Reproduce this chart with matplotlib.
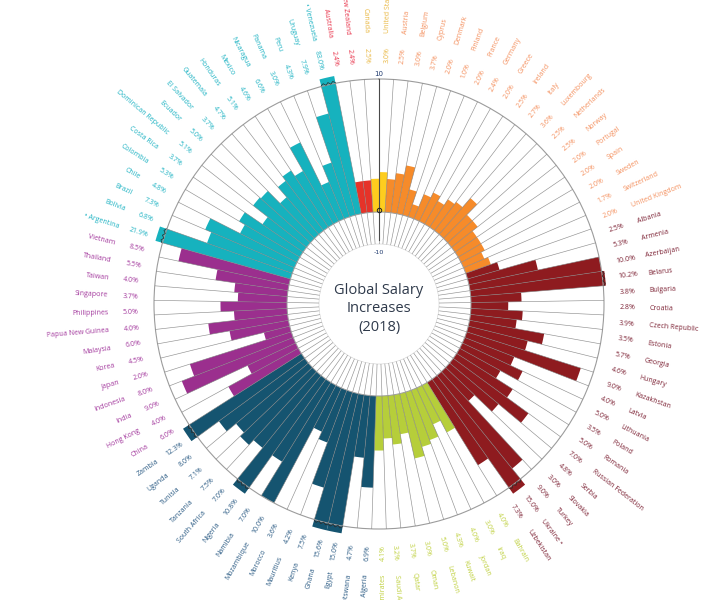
import numpy as np
import matplotlib
matplotlib.use("Agg")
import matplotlib.pyplot as plt

# ---------------- data (clockwise order, starting with Oceania) ----------------
oceania = ["Australia", "New Zealand"]
oceania_vals = [2.4, 2.4]
north_america = ["Canada", "United States"]
north_america_vals = [2.5, 3.0]
europe = ["Austria", "Belgium", "Cyprus", "Denmark", "Finland", "France", "Germany",
          "Greece", "Ireland", "Italy", "Luxembourg", "Netherlands", "Norway",
          "Portugal", "Spain", "Sweden", "Switzerland", "United Kingdom"]
europe_vals = [2.5, 3.0, 3.7, 2.0, 1.0, 2.0, 2.4, 2.0, 2.5, 2.7, 3.6, 2.5, 2.5,
               2.0, 2.0, 2.0, 1.7, 2.0]
east_europe = ["Albania", "Armenia", "Azerbaijan", "Belarus", "Bulgaria", "Croatia",
               "Czech Republic", "Estonia", "Georgia", "Hungary", "Kazakhstan",
               "Latvia", "Lithuania", "Poland", "Romania", "Russian Federation",
               "Serbia", "Slovakia", "Turkey", "Ukraine", "Uzbekistan"]
east_europe_vals = [2.5, 5.3, 10.0, 10.2, 3.8, 2.8, 3.9, 3.5, 5.7, 4.6, 9.0, 4.0,
                    5.0, 3.5, 5.0, 7.0, 4.8, 3.0, 9.0, 15.0, 7.3]
middle_east = ["Bahrain", "Iraq", "Jordan", "Kuwait", "Lebanon", "Oman", "Qatar",
               "Saudi Arabia", "United Arab Emirates"]
middle_east_vals = [4.0, 3.0, 4.0, 4.3, 5.0, 3.0, 3.7, 3.2, 4.1]
africa = ["Algeria", "Botswana", "Egypt", "Ghana", "Kenya", "Mauritius", "Morocco",
          "Mozambique", "Namibia", "Nigeria", "South Africa", "Tanzania", "Tunisia",
          "Uganda", "Zambia"]
africa_vals = [6.9, 4.7, 15.0, 15.6, 7.5, 4.2, 3.6, 10.0, 7.0, 10.8, 7.0, 7.5, 7.1,
               8.0, 12.3]
asia = ["China", "Hong Kong", "India", "Indonesia", "Japan", "Korea", "Malaysia",
        "Papua New Guinea", "Philippines", "Singapore", "Taiwan", "Thailand", "Vietnam"]
asia_vals = [6.0, 4.0, 9.0, 8.0, 2.0, 4.5, 6.0, 4.0, 5.0, 3.7, 4.0, 5.5, 8.5]
latin_america = ["Argentina", "Bolivia", "Brazil", "Chile", "Colombia", "Costa Rica",
                 "Dominican Republic", "Ecuador", "El Salvador", "Guatemala",
                 "Honduras", "Mexico", "Nicaragua", "Panama", "Peru", "Uruguay",
                 "Venezuela"]
latin_america_vals = [21.9, 6.8, 7.3, 4.8, 5.3, 3.7, 5.1, 5.0, 3.7, 4.7, 5.1, 4.6,
                      6.6, 3.0, 4.3, 7.9, 83.0]
flagged = ["Argentina", "Venezuela", "Ukraine"]
axis_ticks = ["-10", "10"]
title = "Global Salary\nIncreases\n(2018)"

# region order / styles (bar colour, label colour)
blocks = [
    (oceania, oceania_vals, "#E63329", "#E8334A"),
    (north_america, north_america_vals, "#FECD1E", "#E9B741"),
    (europe, europe_vals, "#F68B2A", "#F4905E"),
    (east_europe, east_europe_vals, "#8E1B1F", "#7D2335"),
    (middle_east, middle_east_vals, "#B6CE3A", "#BFD03E"),
    (africa, africa_vals, "#155470", "#2B5B84"),
    (asia, asia_vals, "#9B2F8E", "#A2379C"),
    (latin_america, latin_america_vals, "#16B2BE", "#1FB3C3"),
]

names, vals, bar_cols, lab_cols = [], [], [], []
for n, v, bc, lc in blocks:
    names += n
    vals += v
    bar_cols += [bc] * len(n)
    lab_cols += [lc] * len(n)
vals = np.array(vals)
N = len(names)

# ---------------- geometry ----------------
W, H = 719, 600
CX, CY = 379, 304
R_OUT, R0, R_IN = 225, 92, 60
VMAX = 10.0
origin = -VMAX * R0 / (R_OUT - R0)


def px2v(p):
    return origin + p / R_OUT * (VMAX - origin)


step = 2 * np.pi / N
# the boundary between Canada and United States sits at the top (angle 0)
n_before_top = len(oceania) + len(north_america) - 1
theta = np.mod((np.arange(N) - n_before_top + 0.5) * step, 2 * np.pi)

fig = plt.figure(figsize=(W / 100, H / 100), dpi=100)
fig.patch.set_facecolor("white")
ax = fig.add_axes([(CX - R_OUT) / W, (H - CY - R_OUT) / H, 2 * R_OUT / W, 2 * R_OUT / H],
                  projection="polar")
ax.set_theta_zero_location("N")
ax.set_theta_direction(-1)
ax.set_rorigin(origin)
ax.set_ylim(px2v(R_IN), VMAX)
ax.set_xticks([])
ax.set_yticks([])
ax.grid(False)
ax.spines["polar"].set_color("#9c9c9c")
ax.spines["polar"].set_linewidth(0.8)
ax.spines["inner"].set_color("#cfcfcf")
ax.spines["inner"].set_linewidth(0.4)

EXT = 10.55
heights = np.minimum(vals, EXT)
bars = ax.bar(theta, heights, width=step, bottom=0, color=bar_cols, linewidth=0,
              align="center", zorder=2)
for b, v in zip(bars, vals):
    if v > VMAX:
        b.set_clip_on(False)

# boundary lines
r_lo = px2v(R_IN)
for k in range(N):
    tb = theta[k] - step / 2
    ax.plot([tb, tb], [r_lo, VMAX], color="#7d7d7d", lw=0.45, alpha=0.85, zorder=3)

# circle at zero
tt = np.linspace(0, 2 * np.pi, 500)
ax.plot(tt, np.zeros_like(tt), color="#9c9c9c", lw=0.7, zorder=3)

# break marks
for k in range(N):
    if vals[k] > VMAX:
        ts = np.linspace(theta[k] - step / 2, theta[k] + step / 2, 7)
        rs = VMAX + 0.05 + np.array([0, 0.12, -0.05, 0.12, -0.05, 0.12, 0])
        ax.plot(ts, rs, color="#2a2a2a", lw=0.5, zorder=4, clip_on=False)

# axis
ax.plot([0, 0], [r_lo + 0.3, VMAX], color="#4a4a4a", lw=0.8, zorder=5)
ax.plot([0], [0.15], marker="o", ms=3.2, mfc="none", mec="#222222", mew=0.7,
        zorder=6, clip_on=False)
ax.text(0, px2v(R_OUT + 5), axis_ticks[1], ha="center", va="center", fontsize=5,
        color="#1f3a6e", zorder=6, clip_on=False, family="DejaVu Sans")
ax.text(0, px2v(52), axis_ticks[0], ha="center", va="center", fontsize=4.6,
        color="#1f3a6e", zorder=6, clip_on=False, family="DejaVu Sans")

# labels
R_VAL, R_NAME = 241, 271
SHIFT_LEFT = 3.4   # points, left-half labels sit slightly below their spoke
for k in range(N):
    phi = np.degrees(theta[k]) % 360
    if phi < 180:
        rot, ha, d = 90 - phi, "left", 0.0
    else:
        rot, ha, d = 270 - phi, "right", SHIFT_LEFT
    off = (d * np.sin(np.radians(rot)), -d * np.cos(np.radians(rot)))
    nm = names[k]
    if nm in flagged:
        nm = ("• " + nm) if phi >= 180 else (nm + " •")
    vtxt = f"{vals[k]:.1f}%"
    for txt, rr in ((vtxt, R_VAL), (nm, R_NAME)):
        ax.annotate(txt, xy=(theta[k], px2v(rr)), xytext=off,
                    textcoords="offset points", rotation=rot,
                    rotation_mode="anchor", ha=ha, va="center", fontsize=5,
                    color=lab_cols[k], annotation_clip=False, family="Open Sans")

fig.text(CX / W, 1 - 309 / H, title, ha="center", va="center", fontsize=10.5,
         color="#2F3A4B", linespacing=1.3, family="Open Sans", fontweight="medium")

fig.savefig("out.png", dpi=100, facecolor="white")
